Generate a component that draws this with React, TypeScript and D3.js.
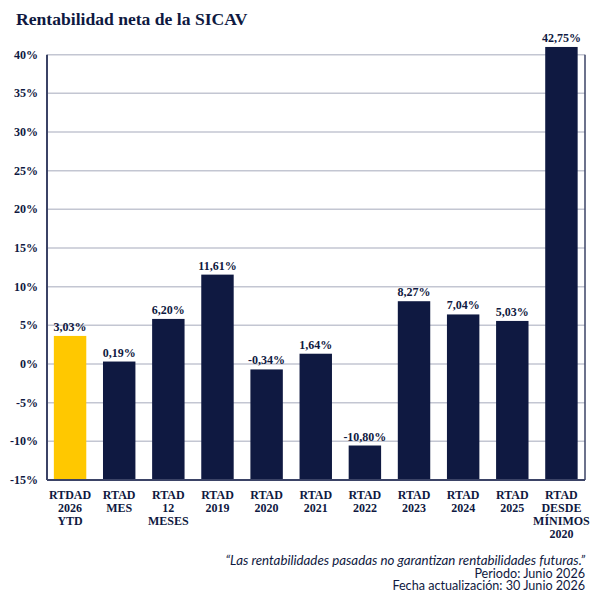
import React from "react";
import * as d3 from "d3";

const categories: string[][] = [
  ["RTDAD", "2026", "YTD"],
  ["RTAD", "MES"],
  ["RTAD", "12", "MESES"],
  ["RTAD", "2019"],
  ["RTAD", "2020"],
  ["RTAD", "2021"],
  ["RTAD", "2022"],
  ["RTAD", "2023"],
  ["RTAD", "2024"],
  ["RTAD", "2025"],
  ["RTAD", "DESDE", "MÍNIMOS", "2020"],
];
// bar heights as drawn in the picture
const barValues: number[] = [3.63, 0.32, 5.83, 11.56, -0.7, 1.33, -10.54, 8.12, 6.41, 5.57, 41.0];
// printed value labels
const valueLabels: string[] = ["3,03%", "0,19%", "6,20%", "11,61%", "-0,34%", "1,64%", "-10,80%", "8,27%", "7,04%", "5,03%", "42,75%"];
const highlight: boolean[] = [true, false, false, false, false, false, false, false, false, false, false];
const yTicks: number[] = [-15, -10, -5, 0, 5, 10, 15, 20, 25, 30, 35, 40];
const footerLines: string[] = [
  "“Las rentabilidades pasadas no garantizan rentabilidades futuras.”",
  "Periodo: Junio 2026",
  "Fecha actualización: 30 Junio 2026",
];

const NAVY = "#0f1941";
const YELLOW = "#ffc800";
const GRID = "#c3c6d2";
const AXIS = "#3b4366";
const SERIF = "'Liberation Serif', 'Times New Roman', serif";
const SANS = "Lato, 'Noto Sans', sans-serif";

export default function App() {
  const left = 47;
  const right = 585;
  const y = d3.scaleLinear().domain([-15, 40]).range([480, 54.7]);
  const x = d3
    .scaleBand<number>()
    .domain(d3.range(categories.length))
    .range([45.5, 586])
    .paddingInner(0.34)
    .paddingOuter(0.17);
  const base = y(-15);

  return (
    <svg
      width={610}
      height={610}
      style={{ position: "absolute", left: 0, top: 0, background: "#fff" }}
    >
      <text x={16} y={25} fontFamily={SERIF} fontWeight="bold" fontSize={17.6} fill={NAVY}>
        Rentabilidad neta de la SICAV
      </text>

      {yTicks.map((t) => (
        <g key={t}>
          <line x1={left} x2={right} y1={y(t)} y2={y(t)} stroke={GRID} strokeWidth={1.5} />
          <text
            x={38}
            y={y(t) + 4}
            textAnchor="end"
            fontFamily={SERIF}
            fontWeight="bold"
            fontSize={12}
            fill={NAVY}
          >
            {`${t}%`}
          </text>
        </g>
      ))}

      {barValues.map((v, i) => (
        <g key={i}>
          <rect
            x={x(i)}
            y={y(v)}
            width={x.bandwidth()}
            height={base - y(v)}
            fill={highlight[i] ? YELLOW : NAVY}
          />
          <text
            x={(x(i) as number) + x.bandwidth() / 2}
            y={y(v) - 5}
            textAnchor="middle"
            fontFamily={SERIF}
            fontWeight="bold"
            fontSize={12}
            fill={NAVY}
          >
            {valueLabels[i]}
          </text>
          {categories[i].map((line, j) => (
            <text
              key={j}
              x={(x(i) as number) + x.bandwidth() / 2}
              y={499 + j * 13}
              textAnchor="middle"
              fontFamily={SERIF}
              fontWeight="bold"
              fontSize={12}
              fill={NAVY}
            >
              {line}
            </text>
          ))}
        </g>
      ))}

      <line x1={left} x2={left} y1={y(40)} y2={base} stroke={AXIS} strokeWidth={2} />
      <line x1={right} x2={right} y1={y(40)} y2={base} stroke={AXIS} strokeWidth={1.5} />
      <line x1={left} x2={right} y1={base} y2={base} stroke={AXIS} strokeWidth={2} />

      {footerLines.map((l, i) => (
        <text
          key={i}
          x={585}
          y={565 + i * 12.5}
          textAnchor="end"
          fontFamily={SANS}
          fontStyle={i === 0 ? "italic" : "normal"}
          fontSize={i === 0 ? 13.3 : 12.6}
          fill={NAVY}
        >
          {l}
        </text>
      ))}
    </svg>
  );
}
